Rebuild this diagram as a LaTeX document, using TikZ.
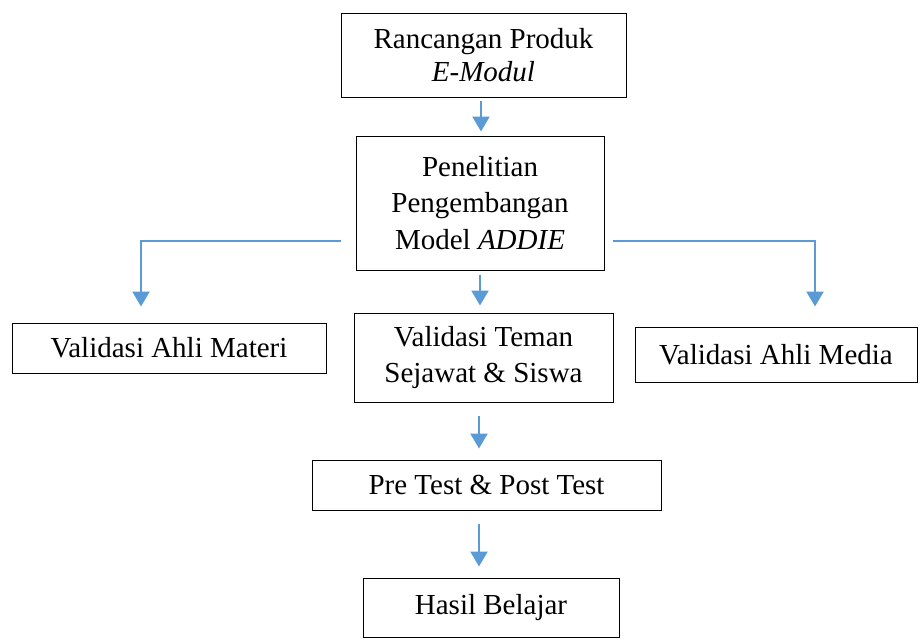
\documentclass[tikz,border=0pt]{standalone}
\usepackage{fontspec}
\setmainfont{Liberation Serif}
\usetikzlibrary{arrows.meta}
\definecolor{arrblue}{HTML}{5B9BD5}
\tikzset{
  box/.style={draw=black, line width=1pt, inner sep=0pt, align=center,
    font=\fontsize{29}{33}\selectfont},
  arr/.style={draw=arrblue, line width=2.4pt,
    -{Triangle[width=17pt,length=15pt]}, arrblue},
  thinline/.style={draw=arrblue, line width=1.2pt}
}
\begin{document}
\begin{tikzpicture}[x=1pt,y=-1pt]
\useasboundingbox (0,0) rectangle (919,638);
\node[box, minimum width=285pt, minimum height=84pt] (r1) at (483.5,55)
  {Rancangan Produk\\\textit{E-Modul}};
\node[box, minimum width=248pt, minimum height=134pt,
  font=\fontsize{29}{36.5}\selectfont] (pen) at (480,203)
  {Penelitian\\Pengembangan\\Model \textit{ADDIE}};
\node[box, minimum width=314pt, minimum height=50pt] (mat) at (169,348)
  {Validasi Ahli Materi};
\node[box, minimum width=259pt, minimum height=89pt,
  font=\fontsize{29}{36}\selectfont] (tem) at (483.5,357.5)
  {Validasi Teman\\Sejawat \& Siswa};
\node[box, minimum width=282pt, minimum height=55pt] (med) at (776,354.5)
  {Validasi Ahli Media};
\node[box, minimum width=349pt, minimum height=50pt] (pre) at (486.5,485)
  {Pre Test \& Post Test};
\node[box, minimum width=256pt, minimum height=59pt] (has) at (491,607.5)
  {Hasil Belajar};

% vertical arrows
\draw[arr, shorten <=3pt, shorten >=4pt] ([xshift=-2.5pt]r1.south) -- ([xshift=1pt]pen.north);
\draw[arr, shorten <=4pt, shorten >=7pt] (pen.south) -- ([xshift=-3.5pt]tem.north);
\draw[arr, shorten <=13pt, shorten >=11pt] ([xshift=-4.5pt]tem.south) -- ([xshift=-7.5pt]pre.north);
\draw[arr, shorten <=13pt, shorten >=11pt] ([xshift=-7.5pt]pre.south) -- ([xshift=-12pt]has.north);

% side branches
\coordinate (lstart) at ([xshift=-15pt,yshift=-38pt]pen.west);
\coordinate (lcorner) at (141,241);
\coordinate (rstart) at ([xshift=8pt,yshift=-38pt]pen.east);
\coordinate (rcorner) at (815,241);
\draw[thinline] (lstart) -- (lcorner);
\draw[thinline] (rstart) -- (rcorner);
\draw[arr, shorten >=16pt] ([yshift=0.6pt]lcorner) -- (lcorner |- mat.north);
\draw[arr, shorten >=20pt] ([yshift=0.6pt]rcorner) -- (rcorner |- med.north);
\end{tikzpicture}
\end{document}
